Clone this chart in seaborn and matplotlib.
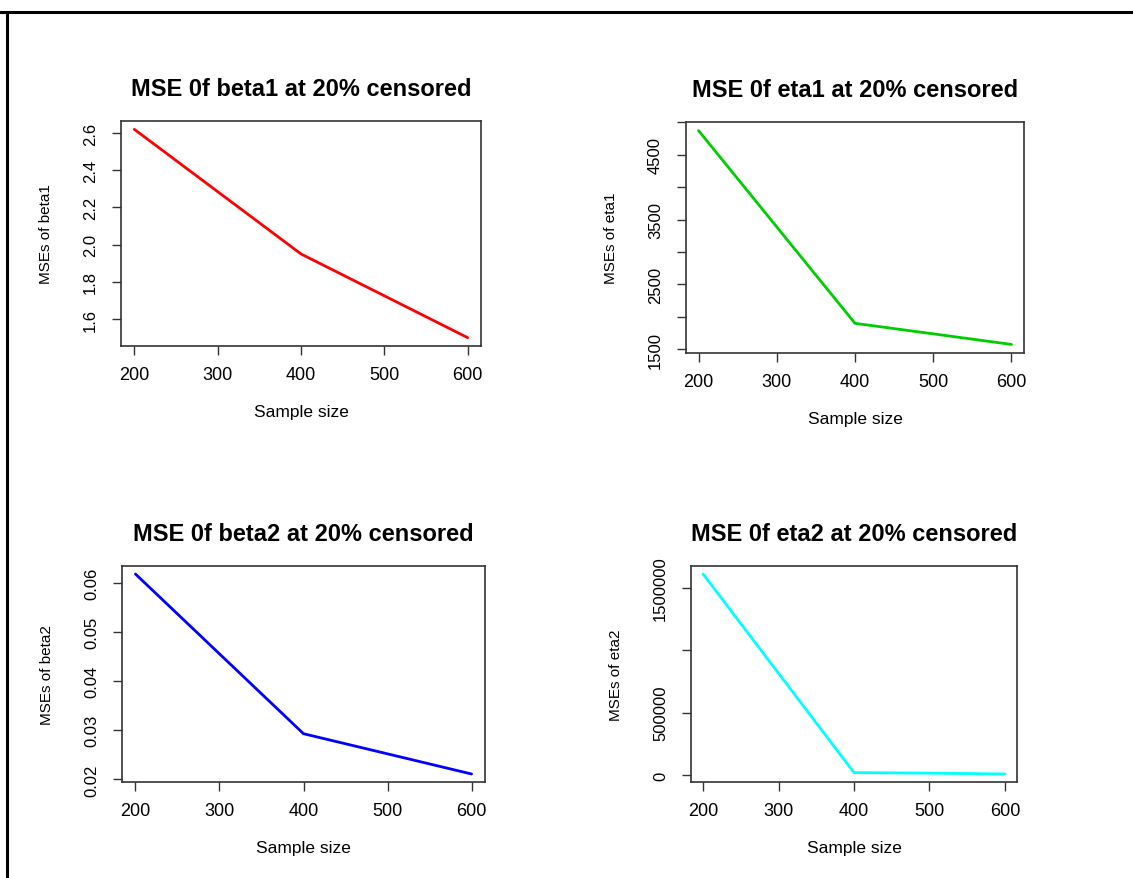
import numpy as np
import pandas as pd
import matplotlib
matplotlib.use("Agg")
import matplotlib.pyplot as plt
import seaborn as sns
from matplotlib.lines import Line2D

sns.set_style("white")
plt.rcParams['font.family'] = ['Liberation Sans', 'DejaVu Sans']
plt.rcParams['text.color'] = 'black'
plt.rcParams['axes.labelcolor'] = 'black'
plt.rcParams['xtick.color'] = 'black'
plt.rcParams['ytick.color'] = 'black'

sample_size = [200, 400, 500, 600]
mse_beta1 = [2.62, 1.95, 1.725, 1.50]
mse_eta1 = [4870, 1902, 1740, 1577]
mse_beta2 = [0.0618, 0.0293, 0.0252, 0.0211]
mse_eta2 = [1612000, 19000, 15000, 8000]

x_ticks = [200, 300, 400, 500, 600]
beta1_ticks = [1.6, 1.8, 2.0, 2.2, 2.4, 2.6]
beta1_labels = ["1.6", "1.8", "2.0", "2.2", "2.4", "2.6"]
eta1_ticks = [1500, 2000, 2500, 3000, 3500, 4000, 4500, 5000]
eta1_labels = ["1500", "", "2500", "", "3500", "", "4500", ""]
beta2_ticks = [0.02, 0.03, 0.04, 0.05, 0.06]
beta2_labels = ["0.02", "0.03", "0.04", "0.05", "0.06"]
eta2_ticks = [0, 500000, 1000000, 1500000]
eta2_labels = ["0", "500000", "", "1500000"]

W, H = 1133, 879
fig = plt.figure(figsize=(W / 100, H / 100), dpi=100)

def add_ax(x0, y0, x1, y1):
    return fig.add_axes([x0 / W, 1 - y1 / H, (x1 - x0) / W, (y1 - y0) / H])

panels = [
    ((121, 122, 481, 347), mse_beta1, "red", "MSE 0f beta1 at 20% censored", "MSEs of beta1", beta1_ticks, beta1_labels),
    ((686, 123, 1024, 354), mse_eta1, "#00CD00", "MSE 0f eta1 at 20% censored", "MSEs of eta1", eta1_ticks, eta1_labels),
    ((122, 567, 485, 783), mse_beta2, "blue", "MSE 0f beta2 at 20% censored", "MSEs of beta2", beta2_ticks, beta2_labels),
    ((691, 567, 1017, 783), mse_eta2, "cyan", "MSE 0f eta2 at 20% censored", "MSEs of eta2", eta2_ticks, eta2_labels),
]

for (box, vals, col, title, ylab, yt, ytl) in panels:
    ax = add_ax(*box)
    df = pd.DataFrame({"n": sample_size, "mse": vals})
    sns.lineplot(data=df, x="n", y="mse", color=col, linewidth=2, ax=ax)
    r = max(vals) - min(vals)
    ax.set_ylim(min(vals) - 0.04 * r, max(vals) + 0.04 * r)
    ax.set_xlim(184, 616)
    ax.set_xticks(x_ticks)
    ax.set_xticklabels([str(t) for t in x_ticks], fontsize=13)
    ax.set_yticks(yt)
    ax.set_yticklabels(ytl, fontsize=12, rotation=90, va="center")
    ax.tick_params(axis="x", direction="out", length=6.5, width=1, color="#333333", pad=8,
                   bottom=True)
    ax.tick_params(axis="y", direction="out", length=6.5, width=1, color="#333333", pad=10,
                   left=True)
    for s in ax.spines.values():
        s.set_visible(True)
        s.set_color("#333333")
        s.set_linewidth(1.2)
    ax.set_title(title, fontsize=17, fontweight="bold", pad=19, color="black")
    ax.set_xlabel("Sample size", fontsize=12.5, labelpad=15)
    ax.set_ylabel(ylab, fontsize=11, labelpad=22)

fig.add_artist(Line2D([0, 1], [1 - 13 / H, 1 - 13 / H], color="black", linewidth=2.2, transform=fig.transFigure))
fig.add_artist(Line2D([7 / W, 7 / W], [0, 1 - 13 / H], color="black", linewidth=2.2, transform=fig.transFigure))

fig.savefig("out.png", dpi=100, facecolor="white")
